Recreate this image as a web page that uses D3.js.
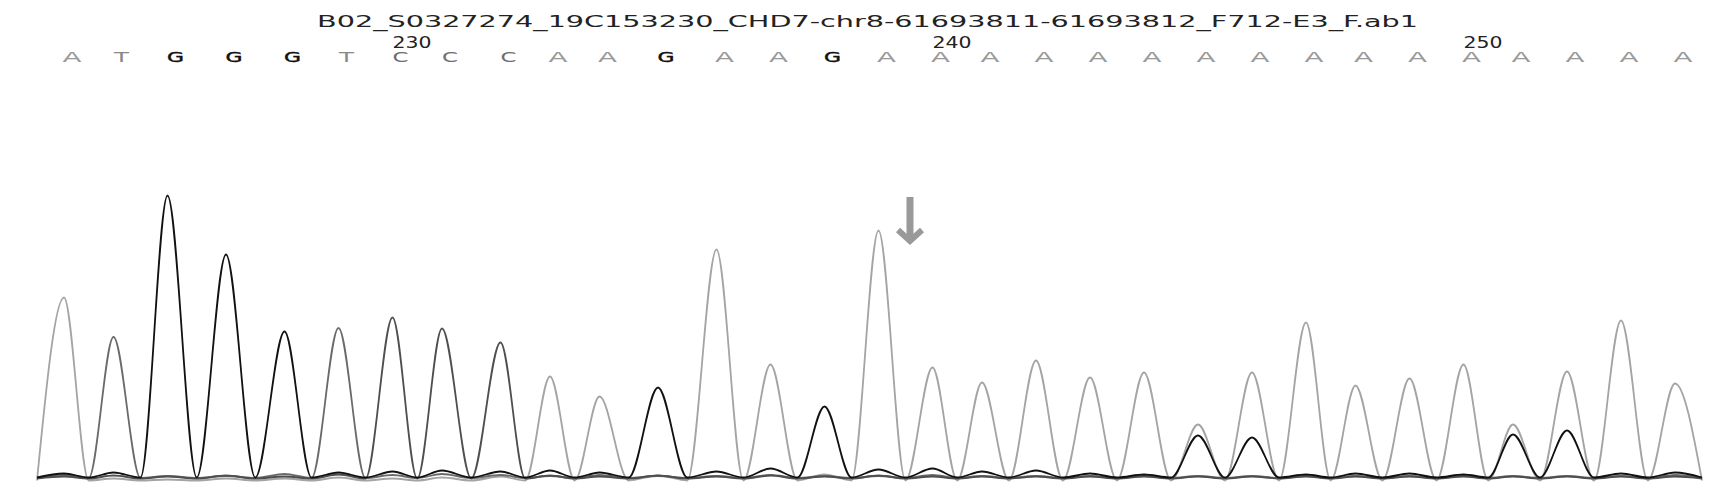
<!DOCTYPE html>
<html>
<head>
  <title>chromatogram trace</title>
  <script src="https://d3js.org/d3.v7.min.js"></script>
  <style>
    body { margin: 0; background: #fff; }
  </style>
</head>
<body>
  <script>

    // file name shown over the trace
    var fileName = 'B02_S0327274_19C153230_CHD7-chr8-61693811-61693812_F712-E3_F.ab1';

    // called bases, first one is base 224
    var firstBase = 224;
    var bases = ['A','T','G','G','G','T','C','C','C','A','A','G','A','A','G',
                 'A','A','A','A','A','A','A','A','A','A','A','A','A','A','A','A'];
    var baseLabels = [230, 240, 250];

    // peak locations (scan number) for each base
    var peakScans = [2706, 2717, 2729, 2742, 2755, 2767, 2779, 2790, 2803, 2814, 2825,
                     2838, 2851, 2863, 2875, 2887, 2899, 2910, 2922, 2934, 2946, 2958,
                     2970, 2982, 2993, 3005, 3017, 3028, 3040, 3052, 3064];
    var scanRange = [2700, 3070];

    // signal of each dye at every peak location
    var signalA = [915, 10, 5, 10, 10, 15, 10, 15, 20, 520, 420, 25, 1155, 580, 30, 1250,
                   565, 490, 600, 515, 540, 280, 540, 790, 475, 510, 580, 280, 545, 800, 485];
    var signalC = [10, 15, 10, 15, 10, 20, 805, 750, 680, 15, 10, 15, 10, 15, 10, 15,
                   10, 10, 10, 10, 10, 10, 10, 10, 10, 10, 10, 10, 10, 10, 10];
    var signalG = [20, 25, 1410, 1115, 730, 25, 30, 35, 30, 35, 25, 450, 30, 45, 355, 40,
                   45, 30, 35, 20, 15, 210, 200, 15, 20, 20, 15, 215, 235, 20, 25];
    var signalT = [15, 705, 10, 10, 20, 750, 15, 20, 15, 10, 15, 10, 10, 15, 10, 10,
                   15, 10, 10, 10, 10, 10, 10, 10, 10, 10, 10, 10, 10, 10, 15];

    // arrow marking the variant (scan, top and tip in signal units)
    var arrowScan = 2894;
    var arrowSignal = [1410, 1180];

    var width = 1720;
    var height = 496;

    var svg = d3.select('body')
          .append('svg')
          .attr('width', width)
          .attr('height', height);

    var x = d3.scaleLinear().domain(scanRange).range([37, 1702]);
    var y = d3.scaleLinear().domain([0, 1500]).range([479, 179]);

    // grey levels of the four dyes
    var dyes = [
      { base: 'A', values: signalA, stroke: '#a4a4a4', text: '#9a9a9a', shift: 1.5 },
      { base: 'T', values: signalT, stroke: '#6a6a6a', text: '#888888', shift: -1 },
      { base: 'C', values: signalC, stroke: '#4e4e4e', text: '#6e6e6e', shift: -0.5 },
      { base: 'G', values: signalG, stroke: '#111111', text: '#111111', shift: -1.5 }
    ];

    // points for one dye: peaks plus baseline between them
    function tracePoints(values) {
      var pts = [[scanRange[0], 0]];
      values.forEach(function (v, i) {
        pts.push([peakScans[i], v]);
        if (i < values.length - 1) pts.push([(peakScans[i] + peakScans[i + 1]) / 2, 0]);
      });
      pts.push([scanRange[1], 0]);
      return pts;
    }

    var traces = svg.append('g').attr('id', 'traces');
    dyes.forEach(function (d) {
      var line = d3.line()
          .x(function (p) { return x(p[0]); })
          .y(function (p) { return y(p[1]) + d.shift; })
          .curve(d3.curveMonotoneX);
      traces.append('path')
          .datum(tracePoints(d.values))
          .attr('fill', 'none')
          .attr('stroke', d.stroke)
          .attr('stroke-width', 1.8)
          .attr('stroke-linejoin', 'round')
          .attr('d', line);
    });

    // title
    svg.append('text')
        .attr('x', 317)
        .attr('y', 27)
        .attr('font-family', 'DejaVu Sans')
        .attr('font-size', 16)
        .attr('fill', '#222')
        .attr('textLength', 1101)
        .attr('lengthAdjust', 'spacingAndGlyphs')
        .text(fileName);

    // base calls
    var colorOf = {};
    dyes.forEach(function (d) { colorOf[d.base] = d.text; });
    var widthOf = { A: 19, T: 15, G: 17, C: 16 };

    svg.append('g').attr('id', 'calls')
      .selectAll('text')
      .data(bases)
      .enter()
      .append('text')
        .attr('x', function (b, i) { return x(peakScans[i]) + 8 - widthOf[b] / 2; })
        .attr('y', 62)
        .attr('font-family', 'DejaVu Sans')
        .attr('font-size', 14)
        .attr('fill', function (b) { return colorOf[b]; })
        .attr('stroke', function (b) { return b === 'G' ? '#111' : 'none'; })
        .attr('stroke-width', 0.4)
        .attr('textLength', function (b) { return widthOf[b]; })
        .attr('lengthAdjust', 'spacingAndGlyphs')
        .text(function (b) { return b; });

    // base numbers every ten
    svg.append('g').attr('id', 'numbers')
      .selectAll('text')
      .data(baseLabels)
      .enter()
      .append('text')
        .attr('x', function (n) { return x(peakScans[n - firstBase]); })
        .attr('y', 48)
        .attr('font-family', 'DejaVu Sans')
        .attr('font-size', 15)
        .attr('fill', '#222')
        .attr('textLength', 39)
        .attr('lengthAdjust', 'spacingAndGlyphs')
        .text(function (n) { return n; });

    // arrow
    var arrow = svg.append('g').attr('id', 'arrow')
        .attr('stroke', '#999')
        .attr('fill', 'none');
    arrow.append('line')
        .attr('x1', x(arrowScan)).attr('x2', x(arrowScan))
        .attr('y1', y(arrowSignal[0])).attr('y2', y(arrowSignal[1]) - 3)
        .attr('stroke-width', 7);
    arrow.append('polyline')
        .attr('points', [
          [x(arrowScan) - 12, y(arrowSignal[1]) - 13],
          [x(arrowScan), y(arrowSignal[1]) - 2],
          [x(arrowScan) + 12, y(arrowSignal[1]) - 13]
        ].map(function (p) { return p.join(','); }).join(' '))
        .attr('stroke-width', 6)
        .attr('stroke-linejoin', 'miter');

  </script>
</body>
</html>
